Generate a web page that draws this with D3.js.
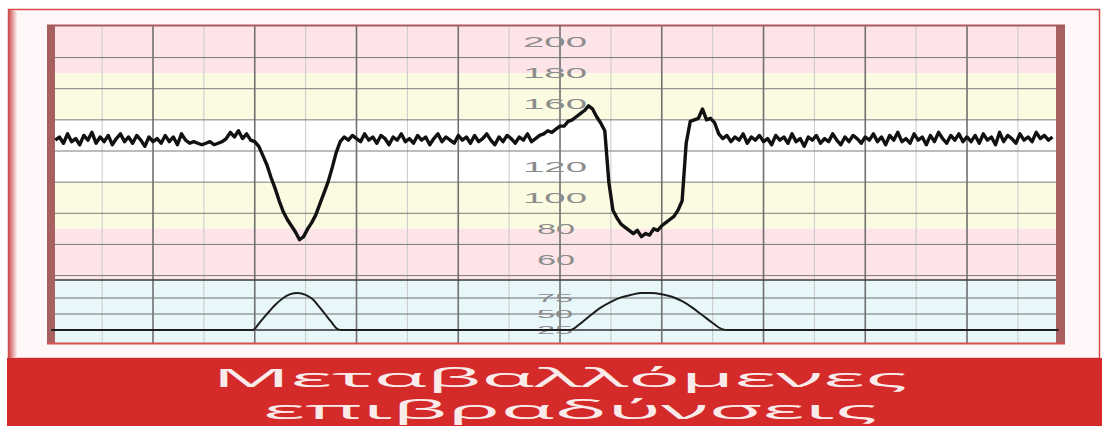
<!DOCTYPE html>
<html>
<head>
<meta charset="utf-8">
<script src="https://cdn.jsdelivr.net/npm/d3@7"></script>
<style>
  html, body { margin: 0; padding: 0; background: #fff; }
  svg { display: block; }
</style>
</head>
<body>
<div id="chart"></div>
<script>
// heart rate trace, one value every 0.04 min starting at 0.04 min
const HR_STEP = 0.04;
const hrBpm = [
  // 0 - 1 min
  137,139,135,141,136,138,134,140,137,142,135,139,136,140,134,138,141,136,139,135,140,137,133,139,136,
  // 1 - 2 min
  138,135,140,136,139,134,141,137,135,136,135,134,135,136,134,135,136,138,142,139,143,138,141,137,136,
  // 2 - 3 min (first deceleration)
  133,127,121,113,106,98,91,86,82,78,73,75,80,84,89,96,103,110,119,129,136,139,137,140,138,
  // 3 - 4 min
  136,141,137,139,135,140,138,134,139,137,141,136,138,135,140,137,139,134,138,141,136,139,137,135,140,
  // 4 - 5 min
  137,139,135,140,136,138,141,137,134,139,136,140,138,135,139,137,141,136,138,140,141,143,142,144,146,
  // 5 - 6 min (second deceleration)
  146,149,150,152,154,156,159,157,152,148,143,110,92,87,83,81,79,77,79,75,77,76,80,79,82,
  // 6 - 7 min
  84,86,88,92,98,135,149,150,151,157,150,151,148,141,138,140,136,139,137,141,135,139,137,140,136,
  // 7 - 8 min
  138,134,140,137,139,135,141,136,138,133,139,137,140,135,138,136,141,137,134,139,136,140,138,135,139,
  // 8 - 9 min
  137,141,136,139,134,140,137,142,136,138,135,141,137,139,134,140,136,142,138,135,140,137,141,136,139,
  // 9 - 9.84 min
  136,140,135,141,137,139,134,142,136,140,138,135,141,137,139,136,142,138,140,137,139
];

// uterine activity [minute, value]
const tocoPoints = [
  [0.0,25],[1.98,25],[2.05,37],[2.12,50],[2.2,64],[2.28,75],[2.35,81],[2.42,83],[2.5,80],
  [2.57,73],[2.63,62],[2.69,50],[2.75,38],[2.82,26],[2.86,25],
  [5.1,25],[5.2,35],[5.3,48],[5.4,60],[5.5,69],[5.6,76],[5.7,80],[5.8,83],[5.9,83],[6.0,81],
  [6.1,77],[6.2,70],[6.3,60],[6.4,48],[6.5,36],[6.6,26],[6.65,25],[9.9,25]
];

const hrLabels = [200, 180, 160, 120, 100, 80, 60];
const hrGrid = [190, 170, 150, 130, 110, 90, 70, 50];
const hrBands = [
  { from: 210, to: 180, color: '#fde4e8' },
  { from: 180, to: 150, color: '#fbfbe2' },
  { from: 150, to: 110, color: '#ffffff' },
  { from: 110, to: 80, color: '#fbfbe2' },
  { from: 80, to: 47, color: '#fde4e8' }
];
const tocoLabels = [75, 50, 25];
const minuteTicks = [1, 2, 3, 4, 5, 6, 7, 8, 9];
const halfTicks = [0.5, 1.5, 2.5, 3.5, 4.5, 5.5, 6.5, 7.5, 8.5, 9.5];
const titleLines = ['Μεταβαλλόμενες', 'επιβραδύνσεις'];

const width = 1102;
const height = 426;

const plot = { left: 52, right: 1060, top: 26, split: 280, bottom: 343 };

const svg = d3.select('#chart')
  .append('svg')
  .attr('width', width)
  .attr('height', height);

const x = d3.scaleLinear().domain([0, 9.9]).range([51.25, 1058.6]);
const yHR = d3.scaleLinear().domain([60, 200]).range([260, 42]);
const yToco = d3.scaleLinear().domain([0, 100]).range([346, 282]);

// outer card + red banner
svg.append('rect')
  .attr('x', 8.5).attr('y', 9.5).attr('width', 1091).attr('height', 349)
  .attr('fill', '#fff7f8').attr('stroke', '#d94848').attr('stroke-width', 1.5);

const defs = svg.append('defs');
const lg = defs.append('linearGradient').attr('id', 'leftEdge');
lg.append('stop').attr('offset', '0%').attr('stop-color', '#c94444');
lg.append('stop').attr('offset', '100%').attr('stop-color', '#fdeeee');
svg.append('rect')
  .attr('x', 8).attr('y', 10).attr('width', 9).attr('height', 348)
  .attr('fill', 'url(#leftEdge)');

svg.append('rect')
  .attr('x', 7).attr('y', 358).attr('width', width - 7).attr('height', height - 358)
  .attr('fill', '#d42a2a');

// background bands
const plotW = plot.right - plot.left;
svg.append('g').selectAll('rect')
  .data(hrBands)
  .join('rect')
  .attr('x', plot.left)
  .attr('width', plotW)
  .attr('y', d => Math.max(plot.top, yHR(d.from)))
  .attr('height', d => Math.min(plot.split, yHR(d.to)) - Math.max(plot.top, yHR(d.from)))
  .attr('fill', d => d.color);

svg.append('rect')
  .attr('x', plot.left).attr('width', plotW)
  .attr('y', plot.split).attr('height', plot.bottom - plot.split)
  .attr('fill', '#e8f7f9');

// grid
const grid = svg.append('g');
grid.selectAll('line.half')
  .data(halfTicks)
  .join('line')
  .attr('class', 'half')
  .attr('x1', d => x(d)).attr('x2', d => x(d))
  .attr('y1', plot.top).attr('y2', plot.bottom)
  .attr('stroke', '#c9c9c9').attr('stroke-width', 1);

grid.selectAll('line.hr')
  .data(hrGrid)
  .join('line')
  .attr('class', 'hr')
  .attr('x1', plot.left).attr('x2', plot.right)
  .attr('y1', d => yHR(d)).attr('y2', d => yHR(d))
  .attr('stroke', '#7a7a7a').attr('stroke-width', 1);

grid.selectAll('line.toco')
  .data(tocoLabels)
  .join('line')
  .attr('class', 'toco')
  .attr('x1', plot.left).attr('x2', plot.right)
  .attr('y1', d => yToco(d)).attr('y2', d => yToco(d))
  .attr('stroke', d => d === 25 ? '#333' : '#6e6e6e').attr('stroke-width', d => d === 25 ? 1.5 : 1);

grid.selectAll('line.minute')
  .data(minuteTicks)
  .join('line')
  .attr('class', 'minute')
  .attr('x1', d => x(d)).attr('x2', d => x(d))
  .attr('y1', plot.top).attr('y2', plot.bottom)
  .attr('stroke', '#707070').attr('stroke-width', 1.6);

grid.append('line')
  .attr('x1', plot.left).attr('x2', plot.right)
  .attr('y1', plot.split).attr('y2', plot.split)
  .attr('stroke', '#3a3a3a').attr('stroke-width', 1.5);

// chart frame
svg.append('rect').attr('x', 47).attr('y', 25).attr('width', 8).attr('height', 319).attr('fill', '#a86060');
svg.append('rect').attr('x', 1056).attr('y', 25).attr('width', 9).attr('height', 319).attr('fill', '#a86060');
svg.append('line').attr('x1', 47).attr('x2', 1065).attr('y1', 25.5).attr('y2', 25.5)
  .attr('stroke', '#a85858').attr('stroke-width', 2);
svg.append('line').attr('x1', 47).attr('x2', 1065).attr('y1', 343.5).attr('y2', 343.5)
  .attr('stroke', '#d85050').attr('stroke-width', 2);

// scale labels
const labelFont = 'Arial, "Liberation Sans", sans-serif';
svg.append('g').selectAll('text')
  .data(hrLabels)
  .join('text')
  .attr('x', d => d >= 100 ? 523 : 537)
  .attr('y', d => yHR(d) + 5)
  .attr('textLength', d => d >= 100 ? 64 : 38)
  .attr('lengthAdjust', 'spacingAndGlyphs')
  .attr('font-family', labelFont)
  .attr('font-size', 14)
  .attr('fill', '#8c8c8c')
  .text(d => d);

svg.append('g').selectAll('text')
  .data(tocoLabels)
  .join('text')
  .attr('x', 537)
  .attr('y', d => yToco(d) + 4)
  .attr('textLength', 36)
  .attr('lengthAdjust', 'spacingAndGlyphs')
  .attr('font-family', labelFont)
  .attr('font-size', 10)
  .attr('fill', '#8c8c8c')
  .text(d => d);

// traces
const hrData = hrBpm.map((v, i) => [HR_STEP * (i + 1), v]);
svg.append('path')
  .datum(hrData)
  .attr('fill', 'none')
  .attr('stroke', '#111')
  .attr('stroke-width', 3.4)
  .attr('stroke-linejoin', 'round')
  .attr('d', d3.line().x(d => x(d[0])).y(d => yHR(d[1])));

svg.append('path')
  .datum(tocoPoints)
  .attr('fill', 'none')
  .attr('stroke', '#1e1e1e')
  .attr('stroke-width', 2)
  .attr('d', d3.line().x(d => x(d[0])).y(d => yToco(d[1])).curve(d3.curveMonotoneX));

// title
svg.append('g').selectAll('text')
  .data(titleLines)
  .join('text')
  .attr('x', (d, i) => i === 0 ? 212 : 263)
  .attr('y', (d, i) => i === 0 ? 387 : 419)
  .attr('textLength', (d, i) => i === 0 ? 695 : 614)
  .attr('lengthAdjust', 'spacingAndGlyphs')
  .attr('font-family', '"Open Sans", "DejaVu Sans", sans-serif')
  .attr('font-size', 26)
  .attr('fill', '#fbeaea')
  .text(d => d);
</script>
</body>
</html>
